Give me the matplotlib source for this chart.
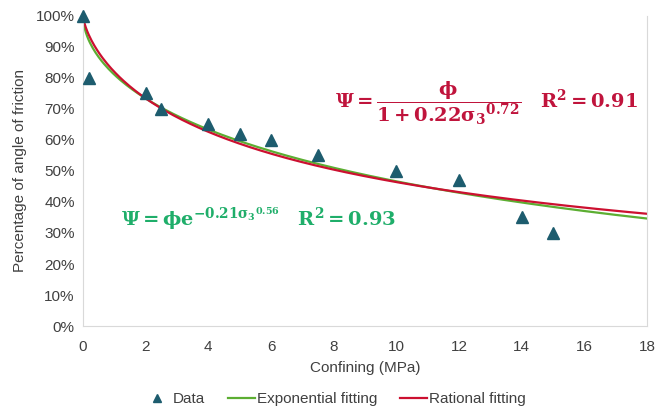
import numpy as np
import matplotlib
matplotlib.use('Agg')
import matplotlib.pyplot as plt
from matplotlib.ticker import PercentFormatter

plt.rcParams['font.family'] = ['Liberation Sans', 'DejaVu Sans']
plt.rcParams['mathtext.fontset'] = 'dejavuserif'

# measured points
confining = [0, 0.2, 2, 2.5, 4, 5, 6, 7.5, 10, 12, 14, 15]
friction_pct = [1.00, 0.80, 0.75, 0.70, 0.65, 0.62, 0.60, 0.55, 0.50, 0.47, 0.35, 0.30]

# fitted parameters
exp_a, exp_b, exp_r2 = 0.21, 0.56, 0.93
rat_a, rat_b, rat_r2 = 0.22, 0.72, 0.91

xticks = [0, 2, 4, 6, 8, 10, 12, 14, 16, 18]

fig = plt.figure(figsize=(6.56, 4.18), dpi=100)
ax = fig.add_axes([0.1265, 0.22, 0.86, 0.742])

s = np.linspace(0, 18, 400)
psi_exp = np.exp(-exp_a * s ** exp_b)
psi_rat = 1 / (1 + rat_a * s ** rat_b)

ax.plot(confining, friction_pct, linestyle='none', marker='^', ms=8,
        color='#1d5c6e', label='Data', clip_on=False, zorder=3)
ax.plot(s, psi_exp, color='#5cae32', lw=1.6, label='Exponential fitting')
ax.plot(s, psi_rat, color='#cc1030', lw=1.6, label='Rational fitting')

ax.set_xlim(0, 18)
ax.set_ylim(0, 1.0)
ax.set_xticks(xticks)
ax.set_yticks(np.arange(0, 1.01, 0.1))
ax.yaxis.set_major_formatter(PercentFormatter(1.0, decimals=0))
ax.tick_params(length=0, labelsize=11, colors='#404040', pad=6)
ax.tick_params(axis='x', pad=10)
ax.spines['top'].set_visible(False)
for side in ['left', 'bottom', 'right']:
    ax.spines[side].set_color('#d9d9d9')

ax.set_xlabel('Confining (MPa)', fontsize=11, color='#404040', labelpad=5)
ax.set_ylabel('Percentage of angle of friction', fontsize=11, color='#404040', labelpad=6)

ax.text(0.447, 0.72,
        r'$\mathbf{\Psi = \dfrac{\phi}{1 + 0.22{\sigma_3}^{0.72}}\quad R^2 = 0.91}$',
        transform=ax.transAxes, fontsize=14, color='#c0143c', va='center')
ax.text(0.068, 0.345,
        r'$\mathbf{\Psi = \phi e^{-0.21{\sigma_3}^{0.56}}\quad R^2 = 0.93}$',
        transform=ax.transAxes, fontsize=14, color='#1fae6a', va='center')

fig.legend(loc='lower center', bbox_to_anchor=(0.51, -0.005), ncol=3, frameon=False,
           fontsize=11, handlelength=1.8, handletextpad=0.1, columnspacing=1.5,
           labelcolor='#404040', markerscale=0.7)

fig.savefig('out.png', dpi=100)
